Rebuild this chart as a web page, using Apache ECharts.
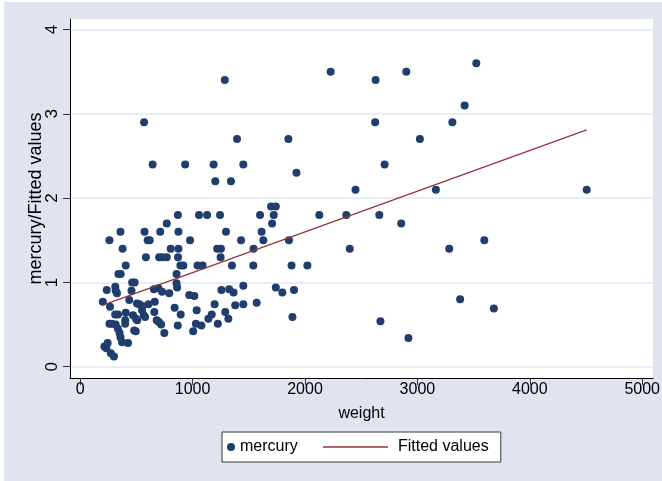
<!DOCTYPE html>
<html><head><meta charset="utf-8">
<script src="https://cdn.jsdelivr.net/npm/echarts@6/dist/echarts.min.js"></script>
<style>
html,body{margin:0;padding:0;background:#fff;}
#bg{position:absolute;left:4px;top:2px;width:658px;height:479px;background:#dfe4ee;}
#chart{position:absolute;left:0;top:0;width:662px;height:481px;}
</style></head><body><div id="bg"></div><div id="chart"></div>
<script>
const weight = [1286,2228,2628,2901,3524,3420,
568,2624,3311,
1395,1852,3022,
644,934,1187,1451,2708,
1924,1202,1341,
2449,3164,4506,
1698,1740,
869,1057,1129,1244,1600,1722,2127,2367,2661,
770,1707,2856,
358,572,712,874,1297,1614,
260,600,618,977,1431,1629,1857,3595,
377,805,874,1218,1252,1542,2398,3283,
584,702,731,770,870,1249,
405,891,917,1044,1089,1350,1540,1880,2021,
340,360,857,
462,484,857,862,
236,312,316,327,456,655,695,728,792,970,1015,1256,1325,1364,1451,1740,1798,1902,
201,265,436,505,526,550,606,663,1196,1379,1451,1570,
311,336,405,550,565,577,470,496,507,659,840,894,1036,1290,1140,1170,1318,1888,
260,282,315,400,400,335,350,358,680,700,720,868,1029,1078,1224,
480,494,748,1005,
372,425,215,244,232,272,300,
2671,2920,3380,3680];
const mercury = [3.40,3.50,3.40,3.50,3.60,3.10,
2.90,2.90,2.90,
2.70,2.70,2.70,
2.40,2.40,2.40,2.40,2.40,
2.30,2.20,2.20,
2.10,2.10,2.10,
1.90,1.90,
1.80,1.80,1.80,1.80,1.80,1.80,1.80,1.80,1.80,
1.70,1.70,1.70,
1.60,1.60,1.60,1.60,1.60,1.60,
1.50,1.50,1.50,1.50,1.50,1.50,1.50,1.50,
1.40,1.40,1.40,1.40,1.40,1.40,1.40,1.40,
1.30,1.30,1.30,1.30,1.30,1.30,
1.20,1.20,1.20,1.20,1.20,1.20,1.20,1.20,1.20,
1.10,1.10,1.10,
1.00,1.00,0.99,0.94,
0.91,0.95,0.90,0.87,0.90,0.92,0.93,0.89,0.87,0.85,0.84,0.91,0.92,0.88,0.96,0.94,0.88,0.91,
0.77,0.71,0.79,0.75,0.74,0.72,0.74,0.77,0.74,0.73,0.74,0.76,
0.62,0.62,0.64,0.67,0.61,0.59,0.61,0.57,0.55,0.65,0.70,0.62,0.67,0.65,0.57,0.62,0.57,0.59,
0.51,0.51,0.50,0.55,0.51,0.45,0.40,0.35,0.55,0.53,0.50,0.49,0.51,0.49,0.51,
0.43,0.42,0.40,0.42,
0.29,0.28,0.24,0.28,0.22,0.16,0.12,
0.54,0.34,0.80,0.69];
const fitWeight = [201, 4506];
const fitMercury = [0.73, 2.81];
const xTicks = [0, 1000, 2000, 3000, 4000, 5000];
const yTicks = [0, 1, 2, 3, 4];

const FONT = 'Liberation Sans, Arial, sans-serif';
const chart = echarts.init(document.getElementById('chart'), null, {renderer: 'canvas'});
chart.setOption({
  backgroundColor: 'transparent',
  animation: false,
  textStyle: {fontFamily: FONT},
  grid: {left: 70, right: 9, top: 19, bottom: 103, show: true, backgroundColor: '#ffffff', borderWidth: 0, outerBoundsMode: 'none'},
  xAxis: {
    type: 'value', min: -91, max: 5096,
    axisLine: {show: true, onZero: false, lineStyle: {color: '#000', width: 1}},
    axisTick: {show: true, customValues: xTicks, length: 7, lineStyle: {color: '#333'}},
    axisLabel: {customValues: xTicks, fontSize: 16, color: '#000', margin: 4, fontFamily: FONT,
      formatter: v => String(v)},
    splitLine: {show: false},
    name: 'weight', nameLocation: 'middle', nameGap: 28, nameMoveOverlap: false,
    nameTextStyle: {fontSize: 16, color: '#000', fontFamily: FONT}
  },
  yAxis: {
    type: 'value', min: -0.134, max: 4.125,
    axisLine: {show: true, onZero: false, lineStyle: {color: '#000', width: 1}},
    axisTick: {show: true, customValues: yTicks, length: 7, lineStyle: {color: '#333'}},
    axisLabel: {customValues: yTicks, rotate: 90, fontSize: 17, color: '#000', margin: 9, fontFamily: FONT,
      formatter: v => String(v)},
    splitLine: {show: true, lineStyle: {color: '#e1e6f1', width: 1.5}},
    name: 'mercury/Fitted values', nameLocation: 'middle', nameGap: 25, nameRotate: 90, nameMoveOverlap: false,
    nameTextStyle: {fontSize: 18, color: '#000', fontFamily: FONT}
  },
  legend: [
    {data: ['mercury'], left: 222, top: 432, orient: 'horizontal',
     backgroundColor: '#fff', borderColor: '#3a3a3a', borderWidth: 1,
     padding: [7, 203, 7, 5], itemWidth: 8, itemHeight: 8, icon: 'circle',
     textStyle: {fontSize: 16, color: '#000', fontFamily: FONT}},
    {data: ['Fitted values'], left: 323, top: 439, orient: 'horizontal',
     padding: 0, itemWidth: 65, itemHeight: 16,
     icon: 'path://M0,0 L100,0 L100,2.2 L0,2.2 Z',
     itemStyle: {color: '#96363b'},
     textStyle: {fontSize: 16, color: '#000', fontFamily: FONT, padding: [0, 0, 0, 5]}}
  ],
  series: [
    {name: 'mercury', type: 'scatter', symbol: 'circle', symbolSize: 8,
     itemStyle: {color: '#1f3d6d', opacity: 1},
     data: weight.map((w, i) => [w, mercury[i]])},
    {name: 'Fitted values', type: 'line', symbol: 'none', silent: true,
     lineStyle: {color: '#96363b', width: 1.4}, itemStyle: {color: '#96363b'},
     data: fitWeight.map((w, i) => [w, fitMercury[i]])}
  ]
});
</script></body></html>
